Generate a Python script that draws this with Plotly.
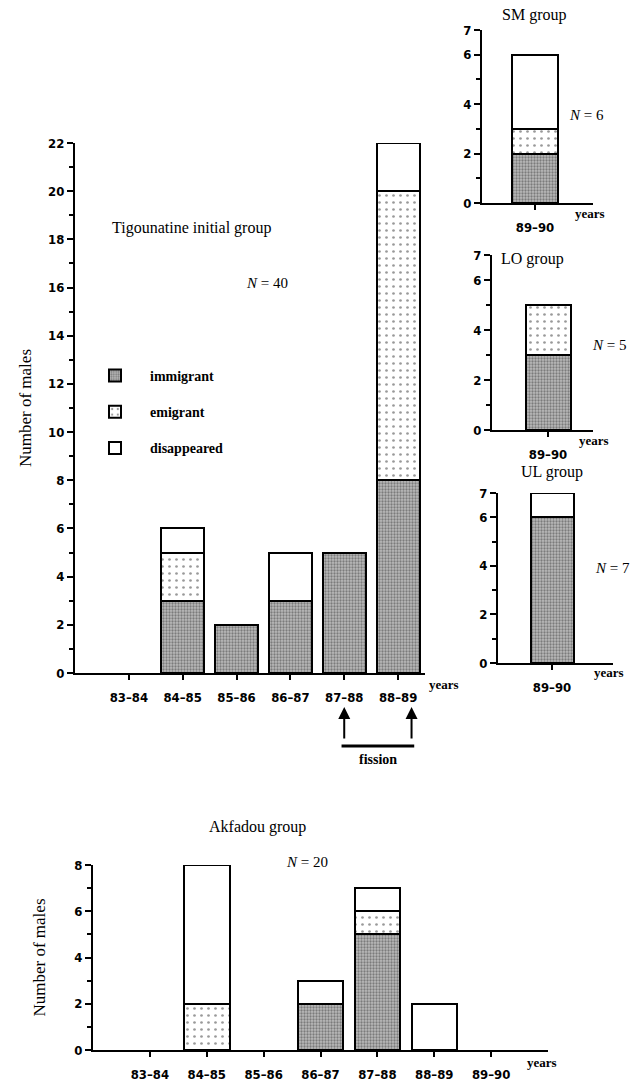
import plotly.graph_objects as go

W, H = 633, 1085

# ---------------- data ----------------
series = ["immigrant", "emigrant", "disappeared"]

main_years = ["83–84", "84–85", "85–86", "86–87", "87–88", "88–89"]
main_immigrant = [0, 3, 2, 3, 5, 8]
main_emigrant = [0, 2, 0, 0, 0, 12]
main_disappeared = [0, 1, 0, 2, 0, 2]

side_years = ["89–90"]
sm_immigrant, sm_emigrant, sm_disappeared = [2], [1], [3]
lo_immigrant, lo_emigrant, lo_disappeared = [3], [2], [0]
ul_immigrant, ul_emigrant, ul_disappeared = [6], [0], [1]

akf_years = ["83–84", "84–85", "85–86", "86–87", "87–88", "88–89", "89–90"]
akf_immigrant = [0, 0, 0, 2, 5, 0, 0]
akf_emigrant = [0, 2, 0, 0, 1, 0, 0]
akf_disappeared = [0, 6, 0, 1, 1, 2, 0]

main_yticks = list(range(0, 23, 2))
side_yticks = [0, 2, 4, 6, 7]
akf_yticks = list(range(0, 9, 2))

# ---------------- styles ----------------
SERIF = "Liberation Serif, Times New Roman, serif"
TICKF = "DejaVu Sans Condensed, DejaVu Sans, sans-serif"

styles = {
    "immigrant": dict(color="#b0b0b0",
                      pattern=dict(shape=".", bgcolor="#bababa", fgcolor="#3c3c3c",
                                   size=3, solidity=0.45)),
    "emigrant": dict(color="#ffffff",
                     pattern=dict(shape=".", bgcolor="#ffffff", fgcolor="#333333",
                                  size=7, solidity=0.12)),
    "disappeared": dict(color="#ffffff"),
}


def px_x(p):
    return p / W


def px_y(p):
    return (H - p) / H


fig = go.Figure()


def add_stack(xname, yname, cats, vals, show, width):
    for name, v in zip(series, vals):
        st = styles[name]
        marker = dict(color=st["color"], line=dict(color="black", width=2))
        if "pattern" in st:
            marker["pattern"] = st["pattern"]
        yv = [val if val else None for val in v]
        fig.add_trace(go.Bar(
            x=cats, y=yv, name=name, xaxis=xname, yaxis=yname,
            marker=marker, width=width, showlegend=show,
            legendgroup=name,
        ))


add_stack("x", "y", main_years, [main_immigrant, main_emigrant, main_disappeared], True, 0.8)
add_stack("x2", "y2", side_years, [sm_immigrant, sm_emigrant, sm_disappeared], False, 0.8)
add_stack("x3", "y3", side_years, [lo_immigrant, lo_emigrant, lo_disappeared], False, 0.8)
add_stack("x4", "y4", side_years, [ul_immigrant, ul_emigrant, ul_disappeared], False, 0.8)
add_stack("x5", "y5", akf_years, [akf_immigrant, akf_emigrant, akf_disappeared], False, 0.8)

tickfont = dict(family=TICKF, size=13, color="black", weight="bold")

xcommon = dict(type="category", showline=True, linecolor="black", linewidth=2,
               ticks="outside", ticklen=5, tickwidth=2, tickcolor="black",
               showgrid=False, zeroline=False, tickfont=tickfont,
               ticklabelstandoff=6, automargin=False, fixedrange=True)
ycommon = dict(showline=True, linecolor="black", linewidth=2,
               ticks="outside", ticklen=6, tickwidth=2, tickcolor="black",
               showgrid=False, zeroline=False, tickfont=tickfont,
               automargin=False, fixedrange=True,
               minor=dict(dtick=1, ticks="outside", ticklen=4, tickwidth=1.5,
                          tickcolor="black", showgrid=False))


def side_xrange(left, center, right, barpx):
    unit = barpx / 0.8
    return [-(center - left) / unit, (right - center) / unit]


fig.update_layout(
    width=W, height=H, margin=dict(l=0, r=0, t=0, b=0),
    paper_bgcolor="white", plot_bgcolor="white",
    barmode="stack", bargap=0.2,
    font=dict(family=SERIF, color="black"),
    xaxis=dict(xcommon, domain=[px_x(75), px_x(425)], range=[-1, 5.5], anchor="y"),
    yaxis=dict(ycommon, domain=[px_y(673), px_y(143)], range=[0, 22], anchor="x",
               tickvals=main_yticks,
               title=dict(text="Number of males", font=dict(family=SERIF, size=17),
                          standoff=12)),
    xaxis2=dict(xcommon, domain=[px_x(482), px_x(593)],
                range=side_xrange(482, 535, 593, 46), anchor="y2"),
    yaxis2=dict(ycommon, domain=[px_y(203), px_y(30)], range=[0, 7], anchor="x2",
                tickvals=side_yticks),
    xaxis3=dict(xcommon, domain=[px_x(492), px_x(593)],
                range=side_xrange(492, 548, 593, 45), anchor="y3"),
    yaxis3=dict(ycommon, domain=[px_y(430), px_y(255)], range=[0, 7], anchor="x3",
                tickvals=side_yticks),
    xaxis4=dict(xcommon, domain=[px_x(498), px_x(613)],
                range=side_xrange(498, 552, 613, 43), anchor="y4"),
    yaxis4=dict(ycommon, domain=[px_y(663), px_y(493)], range=[0, 7], anchor="x4",
                tickvals=side_yticks),
    xaxis5=dict(xcommon, domain=[px_x(93), px_x(548)], range=[-1, 7], anchor="y5"),
    yaxis5=dict(ycommon, domain=[px_y(1050), px_y(865)], range=[0, 8], anchor="x5",
                tickvals=akf_yticks,
                title=dict(text="Number of males", font=dict(family=SERIF, size=17),
                           standoff=24)),
    legend=dict(x=px_x(80), y=px_y(360), xanchor="left", yanchor="top",
                traceorder="grouped", tracegroupgap=15, bgcolor="rgba(0,0,0,0)",
                font=dict(family=SERIF, size=14, weight="bold"),
                itemwidth=60),
)

ann = []


def text(t, xp, yp, size=16, xanchor="center", weight="normal", family=SERIF):
    ann.append(dict(text=t, x=px_x(xp), y=px_y(yp), xref="paper", yref="paper",
                    xanchor=xanchor, yanchor="middle", showarrow=False,
                    font=dict(family=family, size=size, color="black", weight=weight)))


text("Tigounatine initial group", 191, 228, 16)
text("<i>N</i> = 40", 267, 283, 15)
text("SM group", 534, 15, 16)
text("<i>N</i> = 6", 567, 115, 15, xanchor="left")
text("LO group", 532, 259, 16)
text("<i>N</i> = 5", 590, 345, 15, xanchor="left")
text("UL group", 552, 472, 16)
text("<i>N</i> = 7", 632, 568, 15, xanchor="right")
text("Akfadou group", 257, 827, 16)
text("<i>N</i> = 20", 307, 862, 15)

for xl, yl in [(427, 684), (573, 213), (577, 440), (592, 672), (525, 1062)]:
    text("years", xl, yl, 13, xanchor="left", weight="bold")

# fission arrows (main chart, category positions of 87-88 and just right of 88-89)
for xc in [4, 5.25]:
    ann.append(dict(x=xc, y=px_y(707), xref="x", yref="paper", ax=0, ay=33,
                    showarrow=True, arrowhead=2, arrowsize=1.2, arrowwidth=2,
                    arrowcolor="black", text=""))
ann.append(dict(text="fission", x=4.62, y=px_y(759), xref="x", yref="paper",
                showarrow=False, xanchor="center", yanchor="middle",
                font=dict(family=SERIF, size=14, weight="bold", color="black")))
fig.update_layout(annotations=ann)

fig.add_shape(type="line", x0=3.95, x1=5.3, xref="x", y0=px_y(746), y1=px_y(746),
              yref="paper", line=dict(color="black", width=3))

fig.write_html("out.html", config=dict(displayModeBar=False))
